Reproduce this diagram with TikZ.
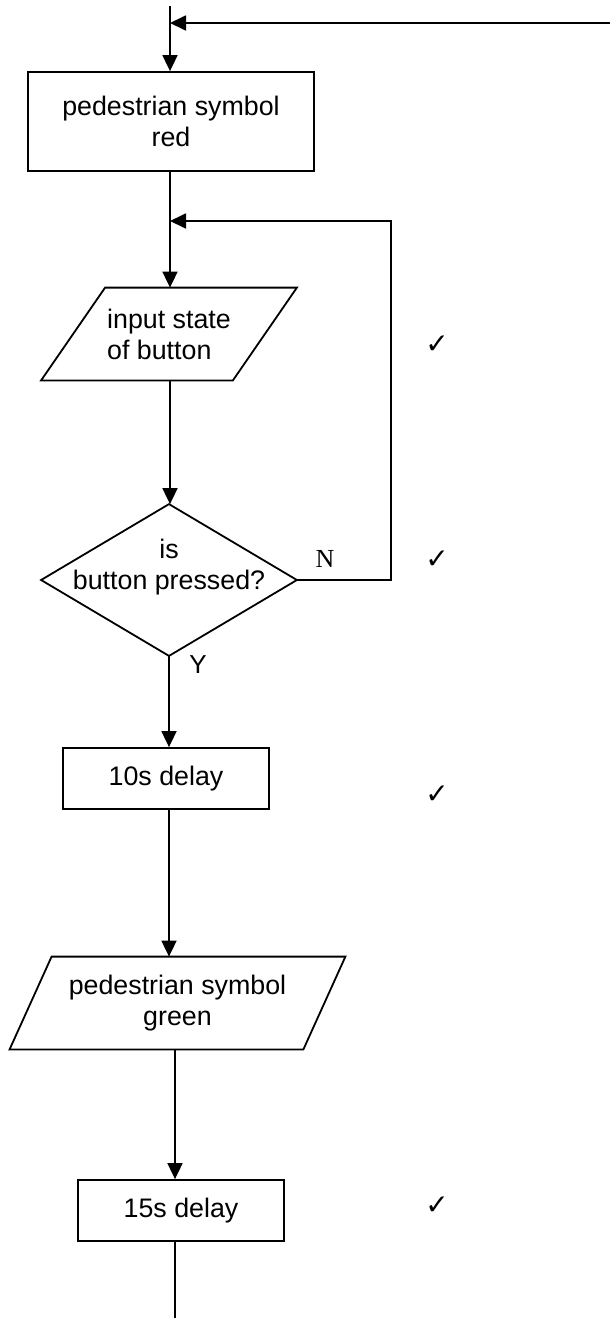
\documentclass[tikz,border=0pt]{standalone}
\usepackage{fontspec}
\setmainfont{Liberation Sans}
\newfontfamily\serifN{Liberation Serif}
\newfontfamily\symfont{DejaVu Sans}
\usetikzlibrary{arrows.meta,calc}

\tikzset{
  box/.style={draw,line width=0.9pt,inner sep=0pt,align=center,font=\fontsize{13.4}{15.5}\selectfont},
  shapetext/.style={inner sep=0pt,align=center,font=\fontsize{13.4}{15.5}\selectfont},
  outline/.style={draw,line width=0.9pt},
  flow/.style={line width=0.9pt,-{Triangle[length=8pt,width=7.5pt]}},
  plain/.style={line width=0.9pt},
  tickmark/.style={font=\symfont\fontsize{14}{14}\selectfont}
}

\begin{document}
\begin{tikzpicture}[x=0.5pt,y=-0.5pt]
\useasboundingbox (0,0) rectangle (610,1318);
\coordinate (top) at (170,6);
\coordinate (back) at (610,23);
\coordinate (join) at (170,221);
\coordinate (loop) at (391,221);
\coordinate (end) at (175,1318);

\node[box,minimum width=143pt,minimum height=49.5pt] (red) at (171,121.5) {pedestrian symbol\\red};

\node[shapetext,align=left,minimum width=95.5pt,minimum height=46pt] (input) at (169,334) {input state\\of button};
\draw[outline] ($(input.north west)+(32,0)$) -- ($(input.north east)+(32,0)$)
  -- ($(input.south east)-(32,0)$) -- ($(input.south west)-(32,0)$) -- cycle;

% text sits a little above the middle of the diamond
\node[shapetext,minimum width=127.5pt,minimum height=75.5pt] (pressed) at (169,580) {is\\button pressed?\rule[-16pt]{0pt}{0pt}};
\draw[outline] (pressed.north) -- (pressed.east) -- (pressed.south) -- (pressed.west) -- cycle;
\node[font=\serifN\fontsize{13}{13}\selectfont] (no) at (325,559) {N};
\node[font=\fontsize{13}{13}\selectfont] (yes) at (198,665) {Y};

\node[box,minimum width=103pt,minimum height=30.5pt] (wait10) at (166,778.5) {10s delay};

\node[shapetext,minimum width=146.5pt,minimum height=46pt] (green) at (177.5,1003) {pedestrian symbol\\green};
\draw[outline] ($(green.north west)+(21,0)$) -- ($(green.north east)+(21,0)$)
  -- ($(green.south east)-(21,0)$) -- ($(green.south west)-(21,0)$) -- cycle;

\node[box,minimum width=103pt,minimum height=30.5pt] (wait15) at (181,1210.5) {15s delay};

% connectors
\draw[flow] (top) -- (top |- red.north);
\draw[flow] (back) -- (top |- back);
\draw[flow] (join |- red.south) -- (join |- input.north);
\draw[flow] (join |- input.south) -- (join |- pressed.north);
\draw[flow] (pressed.east) -| (loop) -- (join);
\draw[flow] (pressed.south) -- (pressed.south |- wait10.north);
\draw[flow] (pressed.south |- wait10.south) -- (pressed.south |- green.north);
\draw[flow] (end |- green.south) -- (end |- wait15.north);
\draw[plain] (end |- wait15.south) -- (end);

% ticks
\foreach \y/\n in {345/ok1,560/ok2,795/ok3,1206/ok4}
  \node[tickmark] (\n) at (437,\y) {✓};
\end{tikzpicture}
\end{document}
